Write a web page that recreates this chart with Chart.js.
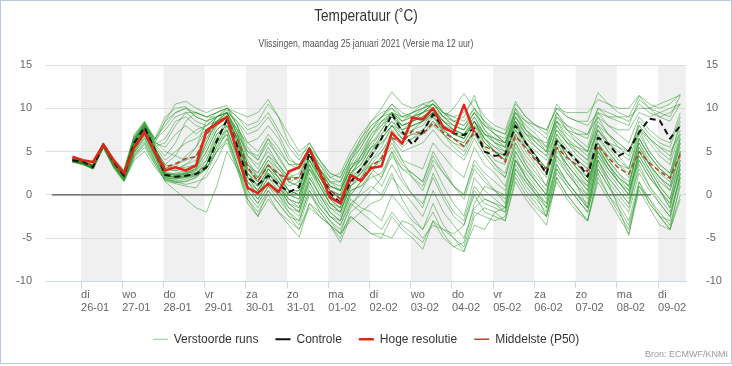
<!DOCTYPE html>
<html>
<head>
<meta charset="utf-8">
<script src="https://cdn.jsdelivr.net/npm/chart.js@4.4.1/dist/chart.umd.min.js"></script>
<style>
  html, body { margin: 0; padding: 0; background: #fff; }
  #wrap { position: relative; width: 732px; height: 366px; }
  #frame { position: absolute; left: 0; top: 0; width: 732px; height: 364px; box-sizing: border-box; border: 1px solid #b7cbe0; pointer-events: none; }
</style>
</head>
<body>
<div id="wrap">
  <canvas id="myChart" width="732" height="366"></canvas>
  <div id="frame"></div>
</div>
<script>
'use strict';

// TEXTS
const titleText = 'Temperatuur (˚C)';
const subtitleText = 'Vlissingen, maandag 25 januari 2021 (Versie ma 12 uur)';
const sourceText = 'Bron: ECMWF/KNMI';

// X AXIS: hours after di 26-01 00:00
const xMin = -20.4;
const xMax = 352.3;
const dayTicks = [0, 24, 48, 72, 96, 120, 144, 168, 192, 216, 240, 264, 288, 312, 336];
const dayNames = ['di', 'wo', 'do', 'vr', 'za', 'zo', 'ma', 'di', 'wo', 'do', 'vr', 'za', 'zo', 'ma', 'di'];
const dayDates = ['26-01', '27-01', '28-01', '29-01', '30-01', '31-01', '01-02', '02-02', '03-02', '04-02', '05-02', '06-02', '07-02', '08-02', '09-02'];

// forecast times (6-hourly)
const hours = [-5, 1, 7, 13, 19, 25, 31, 37, 43, 49, 55, 61, 67, 73, 79, 85, 91, 97, 103, 109,
  115, 121, 127, 133, 139, 145, 151, 157, 163, 169, 175, 181, 187, 193, 199, 205, 211, 217, 223, 229,
  235, 241, 247, 253, 259, 265, 271, 277, 283, 289, 295, 301, 307, 313, 319, 325, 331, 337, 343, 349];

const zeroLineHours = [-17, 332];

// Y AXIS
const yMin = -10;
const yMax = 15;
const yStep = 5;

// SERIES
const controle = [4.0, 3.8, 3.2, 5.9, 3.8, 2.2, 6.0, 7.8, 5.2, 2.3, 2.1, 2.2, 2.4, 3.2, 6.2, 8.7, 5.6, 2.0, 1.2, 2.2,
  1.2, 0.3, 0.9, 4.8, 2.5, 0.2, -0.9, 1.5, 3.0, 4.5, 6.5, 9.4, 7.3, 5.8, 7.3, 9.3, 7.8, 7.1, 6.9, 7.7,
  5.0, 4.5, 4.7, 8.0, 6.0, 4.4, 2.4, 6.2, 5.1, 3.9, 2.1, 6.6, 5.9, 4.5, 5.1, 7.2, 8.8, 8.6, 6.5, 8.0];

const hogeResolutie = [4.4, 4.0, 3.8, 5.8, 4.0, 2.5, 5.5, 7.2, 5.0, 2.8, 3.2, 2.8, 3.4, 7.4, 8.2, 9.0, 4.8, 0.8, 0.2, 1.3,
  0.3, 2.7, 3.2, 5.3, 2.6, -0.3, -1.0, 2.3, 1.6, 3.1, 3.3, 7.2, 5.9, 8.9, 8.7, 10.0, 7.8, 7.2, 10.4, 7.2];

const middelste = [4.0, 3.8, 3.3, 5.7, 3.6, 2.2, 5.6, 7.4, 5.0, 3.2, 3.6, 4.2, 4.4, 7.0, 8.2, 8.8, 6.5, 3.2, 1.6, 3.4,
  2.4, 1.8, 2.0, 4.6, 2.8, 0.6, -0.5, 1.6, 1.8, 3.3, 4.2, 6.6, 6.0, 7.4, 7.0, 8.3, 7.2, 6.5, 5.6, 7.2,
  5.6, 5.0, 3.8, 6.8, 5.4, 3.9, 3.0, 5.5, 4.3, 3.4, 2.7, 5.7, 4.3, 3.1, 2.4, 5.0, 3.7, 2.7, 1.9, 4.7];

const verstoordeRuns = [
  [4.1, 3.7, 3.3, 5.8, 3.9, 2.6, 6.2, 8.1, 6.0, 8.5, 10.5, 10.8, 10.0, 9.5, 10.0, 10.3, 8.0, 5.5, 4.0, 6.5, 4.2, 2.5, 3.0, 5.5, 3.0, 1.5, 1.0, 3.5, 4.0, 6.0, 7.5, 9.5, 8.0, 8.5, 9.0, 10.0, 8.0, 7.0, 6.5, 8.5, 6.0, 5.0, 4.5, 8.0, 6.0, 4.5, 3.0, 6.5, 5.0, 4.0, 3.0, 6.0, 4.5, 3.5, 3.0, 6.5, 4.5, 3.0, 2.0, 5.5],
  [3.9, 3.6, 3.1, 5.6, 3.4, 1.9, 5.0, 7.0, 4.5, 2.0, 1.8, 2.2, 2.5, 3.0, 5.5, 8.0, 6.0, 2.0, 0.5, 2.5, 1.0, -1.0, -2.0, 1.5, -0.5, -2.5, -3.0, 0.0, 1.5, 3.0, 2.0, 4.5, 3.0, 2.0, 1.0, 4.0, 2.5, 1.0, 0.0, 3.5, 2.0, 0.5, -1.0, 4.0, 2.0, 0.5, -1.5, 3.5, 1.5, 0.0, -1.5, 4.0, 2.0, 0.5, -1.0, 3.0, 1.0, -0.5, -2.0, 2.0],
  [4.2, 3.9, 3.4, 6.0, 4.1, 2.8, 6.8, 8.4, 6.2, 5.0, 4.5, 4.0, 5.5, 8.5, 9.5, 10.0, 9.0, 7.5, 8.0, 9.5, 7.5, 5.5, 4.0, 6.0, 4.0, 2.0, 1.5, 4.0, 5.5, 7.5, 9.0, 10.5, 9.5, 9.0, 10.0, 11.0, 9.5, 8.5, 9.0, 11.5, 8.0, 7.0, 6.5, 10.0, 8.5, 7.5, 6.5, 9.5, 8.0, 7.0, 6.5, 10.0, 9.0, 8.5, 8.0, 11.0, 10.0, 9.5, 9.0, 11.5],
  [3.8, 3.5, 3.0, 5.5, 3.2, 1.6, 4.2, 5.5, 3.5, 1.6, 1.3, 1.0, 0.8, 2.5, 5.0, 7.5, 4.5, 0.5, -1.0, 1.0, 0.0, -2.0, -3.5, 0.0, -1.5, -3.0, -4.5, -1.0, -2.0, -3.0, -4.0, -2.0, -3.5, -4.5, -5.5, -3.0, -4.0, -5.0, -6.0, -2.0, -2.5, -3.0, -2.5, 3.0, 1.0, -0.5, -2.0, 2.5, 1.0, -0.5, -2.0, 3.0, 1.0, -1.0, -3.0, 1.5, -0.5, -2.0, -3.5, 1.0],
  [4.0, 3.8, 3.2, 5.9, 3.7, 2.1, 5.8, 7.6, 5.0, 2.5, 2.3, 2.5, 3.0, 6.5, 8.5, 9.2, 6.0, 3.0, 1.5, 3.5, 2.5, 1.0, 1.5, 4.5, 2.0, 0.0, -1.0, 2.0, 3.0, 5.0, 7.0, 8.5, 7.0, 8.0, 8.5, 9.5, 8.0, 7.5, 7.0, 8.5, 6.5, 5.5, 4.5, 8.5, 6.0, 4.0, 2.5, 7.0, 5.0, 3.5, 2.0, 6.5, 5.0, 3.5, 2.5, 6.0, 4.0, 2.5, 1.5, 6.0],
  [4.1, 3.8, 3.3, 5.7, 3.9, 2.5, 6.5, 8.0, 6.5, 9.0, 10.0, 10.2, 9.0, 8.5, 9.0, 9.5, 7.5, 4.0, 2.0, 3.5, 2.0, 0.5, 0.0, 3.0, 1.5, -1.0, -2.0, 1.0, 2.5, 4.0, 5.5, 8.0, 6.5, 7.5, 8.0, 9.5, 7.0, 6.0, 5.0, 7.5, 5.5, 4.0, 3.5, 7.0, 5.0, 3.5, 2.0, 6.5, 4.5, 3.0, 1.5, 5.5, 3.5, 2.0, 0.5, 5.0, 3.0, 1.0, -0.5, 4.0],
  [3.9, 3.7, 3.2, 5.8, 3.6, 2.0, 5.5, 7.2, 4.8, 2.2, 2.0, 2.3, 2.6, 3.5, 6.0, 8.5, 5.5, 1.0, -0.5, 1.5, 0.5, -1.5, -2.5, 1.0, -1.0, -2.5, -3.5, -0.5, -1.5, -2.0, -3.0, 0.0, -1.5, -3.0, -4.0, -1.0, -3.5, -5.0, -6.5, -3.5, -4.0, -2.0, -1.5, 4.5, 2.0, 0.0, -2.5, 2.0, 0.0, -1.5, -3.0, 1.5, -0.5, -2.5, -4.5, 0.5, -1.5, -3.5, -4.0, 0.0],
  [4.0, 3.7, 3.2, 5.9, 3.8, 2.3, 6.0, 7.9, 5.5, 3.0, 2.8, 3.5, 4.5, 7.0, 9.0, 9.5, 7.0, 3.5, 2.0, 4.0, 3.0, 1.5, 2.0, 5.0, 2.5, 0.5, 0.0, 2.5, 4.0, 6.5, 8.0, 9.5, 8.5, 9.0, 9.5, 10.5, 9.0, 8.0, 7.5, 9.5, 7.5, 6.5, 6.0, 9.5, 8.0, 7.0, 5.5, 9.0, 8.0, 7.5, 7.0, 10.0, 9.5, 9.0, 8.5, 10.5, 9.5, 9.0, 9.5, 10.5],
  [3.9, 3.6, 3.1, 5.6, 3.5, 1.8, 4.8, 6.5, 4.0, 1.5, 0.5, -0.5, -1.5, -2.0, 1.0, 5.0, 3.0, 1.0, 0.0, 2.0, 1.0, -0.5, -1.5, 2.0, 0.0, -1.5, -2.0, 1.0, 2.0, 3.5, 5.0, 7.0, 6.0, 6.5, 7.0, 8.5, 7.5, 6.5, 6.0, 8.0, 6.0, 5.0, 4.0, 7.0, 5.5, 4.0, 2.5, 6.0, 4.5, 3.0, 1.5, 5.0, 3.0, 1.5, 0.0, 4.5, 2.5, 0.5, -1.0, 3.0],
  [4.2, 3.8, 3.4, 5.9, 4.0, 2.7, 6.5, 8.2, 6.3, 7.5, 9.0, 9.5, 9.5, 9.0, 9.5, 10.0, 9.0, 8.0, 8.5, 10.5, 9.0, 6.0, 4.5, 5.5, 3.5, 1.5, 0.5, 3.0, 4.5, 6.5, 8.5, 9.0, 7.5, 8.0, 8.5, 9.0, 7.5, 6.5, 6.0, 8.0, 6.5, 5.5, 5.0, 7.5, 6.0, 5.0, 4.0, 7.5, 6.0, 5.5, 5.0, 8.0, 7.0, 6.0, 5.0, 7.5, 6.5, 5.5, 5.0, 7.0],
  [4.0, 3.9, 3.3, 5.8, 3.7, 2.2, 5.9, 7.7, 5.1, 2.8, 3.2, 4.5, 5.5, 7.5, 8.5, 9.0, 6.5, 2.5, 1.0, 2.5, 1.5, 0.0, 0.5, 4.0, 1.5, -0.5, -1.5, 1.5, 2.5, 4.5, 6.0, 7.0, 5.5, 6.5, 7.5, 8.5, 7.0, 5.5, 4.5, 7.0, 5.0, 3.5, 2.5, 6.5, 4.5, 3.0, 1.0, 5.5, 3.5, 2.0, 0.5, 5.0, 3.0, 1.5, 0.5, 4.0, 2.0, 0.5, -1.5, 3.5],
  [3.8, 3.6, 3.0, 5.5, 3.3, 1.7, 4.5, 6.0, 3.8, 2.0, 1.5, 1.2, 1.5, 2.0, 4.0, 6.5, 3.0, -0.5, -2.5, 0.5, -1.0, -2.5, -4.0, -1.0, -2.0, -3.5, -5.0, -2.0, -1.0, 0.5, 2.0, 5.0, 2.0, 0.0, -1.0, 2.0, -0.5, -2.5, -3.5, 0.5, -1.0, -1.5, -2.0, 3.0, 1.5, 0.0, -1.0, 4.0, 2.5, 1.0, 0.0, 5.0, 3.5, 2.0, 1.0, 5.5, 3.5, 2.0, 1.0, 5.0],
  [4.1, 3.8, 3.3, 5.9, 4.0, 2.4, 6.4, 8.3, 5.8, 4.5, 6.0, 8.5, 9.5, 9.0, 9.0, 9.5, 8.5, 6.0, 5.0, 7.0, 5.5, 3.5, 3.0, 5.0, 3.5, 2.0, 2.5, 5.0, 7.0, 8.5, 9.5, 10.0, 9.0, 9.5, 10.0, 10.5, 9.5, 9.0, 8.5, 10.0, 8.5, 7.5, 7.0, 10.5, 9.0, 8.0, 7.5, 10.0, 9.5, 9.5, 9.5, 11.0, 10.5, 10.0, 10.0, 11.5, 10.5, 10.0, 10.5, 11.7],
  [3.9, 3.7, 3.2, 5.7, 3.6, 2.0, 5.2, 7.0, 4.6, 2.3, 2.5, 2.8, 3.2, 5.0, 7.5, 8.5, 5.0, 1.5, 0.0, 3.0, 1.5, -0.5, -1.0, 3.0, 0.5, -1.5, -2.5, 0.5, 1.0, 2.5, 1.0, 3.5, 1.5, 0.0, -1.5, 2.5, 0.0, -2.0, -3.0, 1.0, -0.5, -1.0, -2.0, 2.5, 0.5, -1.0, -2.5, 1.5, -0.5, -2.0, -3.0, 2.0, 0.0, -1.5, -3.5, 1.0, -0.5, -2.5, -3.0, 2.5],
  [4.0, 3.7, 3.3, 5.8, 3.8, 2.4, 6.1, 7.8, 5.3, 3.5, 3.0, 3.5, 4.0, 7.0, 9.0, 10.0, 8.0, 4.5, 3.0, 5.5, 3.5, 2.0, 2.5, 5.5, 3.0, 1.0, 0.5, 4.0, 6.5, 8.0, 9.0, 10.0, 8.5, 9.5, 10.5, 10.0, 9.0, 10.0, 11.7, 10.0, 7.5, 6.0, 5.0, 9.0, 7.0, 5.5, 4.5, 8.5, 6.5, 5.0, 4.0, 8.0, 6.0, 4.5, 3.0, 7.0, 5.0, 3.5, 2.5, 6.5],
  [3.8, 3.5, 3.0, 5.4, 3.1, 1.5, 4.0, 5.0, 3.2, 1.8, 1.5, 1.5, 2.0, 3.5, 6.0, 7.0, 3.5, 0.0, -1.5, 0.5, -1.0, -2.5, -3.0, 0.5, -2.0, -3.5, -5.5, -2.5, -3.5, -4.5, -5.0, -2.5, -4.0, -5.0, -6.3, -3.0, -5.0, -6.0, -6.6, -2.5, -1.5, -2.0, -3.0, 2.0, 0.0, -1.5, -2.5, 3.0, 1.5, 0.0, -1.0, 4.5, 3.0, 1.5, 0.0, 5.0, 3.5, 2.0, 0.5, 4.0],
  [4.1, 3.8, 3.4, 5.9, 3.9, 2.5, 6.3, 8.0, 5.6, 6.0, 8.0, 9.5, 8.5, 8.0, 8.5, 9.5, 7.0, 3.5, 2.5, 4.5, 3.0, 1.5, 1.0, 4.5, 2.0, 0.5, -0.5, 2.5, 3.5, 5.5, 6.5, 8.0, 7.5, 8.5, 9.0, 10.0, 8.5, 7.5, 7.0, 9.0, 7.0, 6.0, 5.5, 8.5, 6.5, 5.5, 4.5, 7.5, 6.0, 5.0, 4.0, 7.5, 6.0, 5.0, 4.0, 7.5, 6.0, 4.5, 3.5, 7.5],
  [3.9, 3.6, 3.1, 5.7, 3.5, 1.9, 5.3, 7.3, 4.7, 2.5, 2.2, 2.4, 2.8, 4.5, 7.0, 8.0, 5.5, 2.0, 1.0, 3.0, 2.0, 0.0, -0.5, 3.5, 1.0, -1.0, -1.5, 1.5, 3.0, 4.5, 6.5, 8.0, 6.5, 7.0, 7.5, 9.0, 7.5, 6.5, 5.5, 7.5, 5.0, 3.5, 2.0, 6.0, 3.5, 1.5, 0.0, 5.5, 3.0, 1.0, -1.5, 4.0, 1.5, -1.5, -4.7, 1.5, -1.0, -2.5, -4.0, 1.5],
  [4.0, 3.8, 3.2, 5.8, 3.8, 2.2, 5.7, 7.5, 5.0, 3.0, 3.5, 4.0, 4.5, 6.5, 8.0, 9.0, 6.5, 3.0, 2.0, 4.0, 2.5, 0.5, 0.0, 4.0, 2.0, 0.0, -1.0, 2.0, 4.5, 7.0, 8.5, 9.5, 9.0, 9.5, 10.0, 10.5, 9.0, 8.0, 7.5, 9.0, 7.0, 6.5, 5.5, 10.0, 7.5, 6.0, 5.0, 9.5, 7.5, 6.0, 5.0, 9.0, 7.0, 5.5, 4.5, 8.5, 7.0, 6.0, 5.5, 9.0],
  [3.8, 3.6, 3.0, 5.5, 3.3, 1.7, 4.6, 6.2, 4.0, 1.8, 1.6, 1.8, 2.2, 3.0, 5.5, 7.0, 3.5, -0.5, -2.0, 0.0, -2.0, -3.5, -4.9, -1.0, -2.5, -3.5, -4.5, -3.0, -2.0, -1.0, -0.5, 2.0, 0.5, -1.0, -2.5, 0.5, -2.0, -3.5, -5.0, -1.5, -0.5, -1.0, -1.5, 4.0, 2.5, 1.0, -0.5, 5.0, 3.5, 2.0, 1.0, 6.0, 4.0, 2.5, 1.0, 6.5, 4.5, 3.0, 2.0, 6.5],
  [4.1, 3.9, 3.4, 5.9, 4.0, 2.6, 6.6, 8.3, 6.0, 5.5, 7.0, 8.0, 7.0, 8.0, 9.0, 9.8, 8.0, 5.0, 4.0, 6.0, 4.5, 2.5, 1.5, 4.5, 2.5, 1.0, 0.5, 3.0, 4.5, 6.0, 7.0, 8.5, 7.5, 8.0, 8.5, 9.5, 8.0, 7.0, 6.5, 8.5, 7.0, 6.0, 5.5, 9.0, 7.0, 6.0, 5.0, 8.0, 6.5, 5.5, 4.5, 7.5, 6.0, 5.5, 5.0, 8.0, 6.5, 5.0, 4.0, 8.5],
  [4.0, 3.7, 3.2, 5.8, 3.7, 2.1, 5.6, 7.4, 4.9, 2.4, 2.0, 2.2, 2.5, 3.5, 6.5, 8.8, 6.5, 2.5, 1.0, 3.0, 1.5, 0.0, -0.5, 3.5, 1.0, -1.0, -2.0, 1.5, 2.5, 3.5, 4.0, 6.0, 4.0, 3.5, 3.0, 6.0, 4.5, 3.0, 2.0, 5.5, 3.5, 2.5, 1.0, 5.5, 3.5, 2.0, 0.5, 4.5, 3.0, 1.5, 0.0, 4.5, 2.5, 1.0, -0.5, 4.5, 2.5, 0.5, -1.0, 3.5],
  [4.2, 3.9, 3.5, 6.0, 4.2, 2.9, 7.0, 8.5, 6.5, 8.0, 9.5, 10.0, 9.5, 9.0, 9.5, 10.0, 9.5, 9.0, 9.5, 11.0, 9.0, 7.0, 5.0, 6.0, 4.0, 2.5, 2.0, 4.5, 6.0, 7.5, 8.5, 9.5, 8.5, 9.0, 9.5, 10.5, 9.0, 8.5, 8.0, 9.5, 8.0, 7.5, 7.0, 9.5, 8.5, 8.0, 7.5, 10.0, 9.0, 8.5, 8.0, 9.5, 9.0, 9.0, 9.0, 10.0, 10.0, 10.5, 11.0, 11.5],
  [3.9, 3.7, 3.1, 5.6, 3.5, 1.8, 5.0, 6.8, 4.4, 2.0, 1.8, 2.0, 2.4, 4.0, 6.5, 7.5, 4.0, 1.0, -0.5, 1.5, 0.0, -1.5, -2.0, 1.5, -1.0, -2.5, -3.5, -1.0, 0.0, 1.0, 0.0, 2.5, -0.5, -2.5, -4.0, -2.0, -4.5, -6.0, -5.5, -1.0, 1.0, 0.5, 0.0, 5.0, 3.0, 1.5, 0.0, 5.5, 3.5, 2.0, 0.5, 5.5, 3.5, 1.5, 0.0, 5.0, 3.0, 1.0, -0.5, 4.5],
  [4.0, 3.8, 3.3, 5.8, 3.9, 2.4, 6.0, 7.8, 5.4, 3.2, 3.0, 3.2, 3.5, 5.5, 8.0, 9.0, 6.5, 3.0, 1.5, 3.5, 2.0, 0.5, 0.5, 4.5, 2.5, 0.5, -0.5, 2.5, 3.5, 5.5, 7.5, 9.0, 8.0, 8.5, 9.5, 10.0, 8.5, 7.5, 6.5, 8.5, 6.5, 5.0, 4.0, 8.5, 6.0, 4.5, 3.0, 8.0, 6.0, 4.5, 3.5, 7.5, 5.5, 4.0, 3.0, 7.5, 5.0, 3.5, 2.5, 7.0],
  [4.1, 3.8, 3.3, 5.9, 3.8, 2.3, 6.2, 8.0, 5.4, 3.5, 4.5, 6.5, 7.5, 8.0, 9.0, 9.5, 7.5, 4.5, 3.5, 5.0, 3.5, 1.5, 1.0, 4.0, 2.0, 0.5, 0.0, 3.0, 5.0, 7.0, 8.0, 9.0, 8.0, 8.5, 9.0, 9.5, 8.5, 8.0, 7.5, 9.5, 8.0, 7.0, 6.0, 9.5, 7.5, 6.5, 5.5, 9.0, 7.5, 6.5, 5.5, 9.5, 8.0, 7.0, 6.0, 9.0, 7.5, 6.5, 6.0, 9.5],
  [3.9, 3.6, 3.1, 5.6, 3.4, 1.8, 4.9, 6.6, 4.3, 2.1, 1.9, 2.0, 2.2, 3.0, 5.0, 6.5, 3.5, 0.5, -1.0, 1.0, -0.5, -2.0, -3.0, 0.5, -1.5, -3.0, -4.0, -1.5, 0.5, 2.5, 4.5, 6.5, 4.0, 2.0, 0.5, 3.5, 1.0, -1.0, -2.5, 2.0, 0.5, -0.5, -1.5, 3.5, 1.5, 0.0, -1.5, 3.0, 1.0, -0.5, -2.0, 3.0, 1.0, -0.5, -2.0, 2.5, 0.5, -1.0, -2.5, 2.0],
  [4.0, 3.7, 3.2, 5.8, 3.7, 2.2, 5.8, 7.6, 5.1, 2.6, 2.4, 2.6, 3.0, 6.0, 8.5, 9.5, 7.0, 3.5, 2.5, 4.5, 3.5, 2.0, 2.0, 5.5, 3.0, 1.0, 0.5, 3.0, 4.0, 5.5, 6.0, 7.5, 6.5, 7.0, 7.0, 8.0, 7.0, 6.0, 5.5, 7.5, 6.0, 5.0, 4.0, 7.5, 5.5, 4.0, 2.5, 6.5, 4.5, 3.0, 2.0, 6.0, 4.0, 2.5, 1.5, 5.5, 3.5, 2.0, 1.0, 5.0],
  [4.1, 3.8, 3.3, 5.8, 3.9, 2.5, 6.2, 7.9, 5.6, 4.0, 5.0, 6.0, 6.5, 7.5, 8.5, 9.0, 7.0, 5.0, 4.5, 6.5, 5.0, 3.5, 3.5, 5.5, 4.0, 2.5, 2.0, 4.5, 6.5, 8.5, 10.0, 11.9, 10.5, 10.0, 10.5, 10.9, 9.5, 9.0, 9.5, 11.0, 9.0, 8.0, 7.5, 10.8, 9.0, 8.0, 7.0, 10.5, 9.0, 8.5, 8.5, 11.8, 10.5, 9.5, 9.0, 11.4, 10.0, 9.0, 8.5, 10.5],
  [3.9, 3.6, 3.1, 5.7, 3.6, 2.0, 5.4, 7.1, 4.7, 2.2, 2.1, 2.4, 2.8, 4.0, 7.0, 8.0, 5.0, 1.5, 0.5, 2.5, 1.0, -1.0, -1.5, 2.5, 0.0, -2.0, -3.0, 0.0, 1.5, 3.0, 4.0, 5.5, 3.5, 2.5, 1.5, 4.5, 2.5, 1.0, 0.0, 4.0, 2.5, 1.5, 0.5, 5.0, 3.0, 1.5, 0.0, 4.5, 2.5, 1.0, -0.5, 4.0, 2.0, 0.5, -1.0, 4.0, 2.0, 0.5, -1.5, 3.0],
  [3.8, 3.5, 3.0, 5.5, 3.2, 1.6, 4.4, 5.8, 3.6, 1.7, 1.4, 1.6, 2.0, 3.0, 5.0, 6.0, 3.0, -1.0, -2.5, -0.5, -2.0, -3.0, -4.0, -1.5, -2.5, -3.5, -4.5, -2.5, -3.5, -4.5, -4.5, -5.0, -3.0, -3.5, -5.0, -3.5, -4.0, -4.5, -3.5, 0.0, -2.0, -2.5, -3.0, 1.5, -0.5, -2.0, -3.5, 2.0, 0.0, -1.5, -3.0, 2.5, 0.0, -2.0, -4.0, 1.0, -1.0, -2.5, -4.0, -0.5],
  [4.1, 3.9, 3.4, 5.9, 4.0, 2.5, 6.4, 8.1, 5.8, 6.5, 8.5, 9.0, 8.0, 7.5, 8.5, 9.0, 7.5, 6.0, 6.5, 8.0, 6.5, 4.0, 3.5, 5.0, 3.0, 1.5, 1.5, 4.0, 6.0, 8.0, 9.0, 9.5, 8.0, 8.5, 9.5, 10.0, 8.5, 7.5, 7.0, 8.5, 7.0, 6.5, 6.0, 8.5, 7.0, 6.5, 6.0, 8.5, 7.5, 7.0, 7.0, 9.0, 8.0, 7.5, 7.5, 9.5, 9.0, 9.5, 10.0, 10.5],
  [4.0, 3.7, 3.2, 5.7, 3.7, 2.1, 5.6, 7.3, 4.9, 2.4, 2.3, 2.5, 3.0, 5.0, 7.5, 8.5, 5.5, 2.0, 0.5, 2.5, 1.0, -0.5, -1.0, 3.0, 1.0, -1.0, -2.0, 1.0, 2.0, 4.0, 5.0, 6.5, 5.0, 5.5, 6.0, 7.5, 6.0, 5.0, 4.0, 6.5, 4.5, 3.0, 2.0, 6.0, 4.0, 2.5, 1.0, 6.0, 4.0, 2.5, 1.0, 5.5, 3.5, 2.0, 1.0, 6.0, 3.5, 1.5, 0.5, 5.0],
  [4.2, 3.9, 3.4, 6.0, 4.1, 2.7, 6.7, 8.4, 6.4, 8.5, 9.5, 10.0, 9.0, 8.5, 9.0, 9.5, 8.5, 7.0, 7.5, 9.0, 7.0, 4.5, 3.0, 5.0, 3.0, 1.0, 0.5, 3.5, 5.5, 7.5, 9.0, 10.5, 9.0, 9.0, 9.5, 10.5, 9.5, 8.5, 8.0, 10.0, 8.5, 7.0, 6.0, 9.0, 7.5, 6.5, 5.0, 8.5, 7.0, 6.0, 5.0, 8.5, 7.0, 6.0, 5.0, 8.0, 6.5, 5.5, 4.5, 8.0],
  [3.9, 3.7, 3.2, 5.7, 3.6, 2.0, 5.3, 7.0, 4.6, 2.3, 2.0, 2.1, 2.4, 3.5, 6.0, 7.5, 4.5, 1.5, 0.0, 2.0, 0.5, -1.0, -2.0, 2.0, 0.0, -2.0, -3.0, 0.5, 1.0, 2.0, 2.5, 5.0, 3.0, 2.5, 1.5, 5.0, 3.0, 1.0, -0.5, 3.0, 1.5, 0.5, -0.5, 4.0, 2.0, 0.5, -1.0, 3.5, 1.5, 0.0, -1.5, 3.5, 1.5, 0.0, -1.5, 3.5, 1.0, -1.0, -2.5, 2.5],
  [4.0, 3.8, 3.3, 5.9, 3.8, 2.3, 6.0, 7.9, 5.3, 3.0, 2.8, 3.0, 3.5, 6.0, 8.5, 9.5, 6.0, 2.5, 1.5, 3.5, 2.0, 0.5, 0.0, 3.5, 1.5, -0.5, -1.5, 2.0, 3.0, 5.0, 6.5, 8.0, 7.0, 7.5, 8.5, 9.5, 8.0, 7.0, 6.5, 8.5, 6.5, 5.0, 4.5, 8.0, 6.0, 4.5, 3.0, 7.0, 5.5, 4.0, 3.0, 7.0, 5.0, 3.5, 2.0, 6.5, 4.5, 3.0, 2.0, 6.0]
];

// COLOURS
const runColor = 'rgba(35, 150, 35, 0.5)';
const controlColor = '#111111';
const hresColor = '#e3241b';
const p50Color = '#ad4a2f';
const labelFont = "'Liberation Sans', Arial, sans-serif";

// HELPERS
function toPoints(values) {
  return values.map((v, i) => ({ x: hours[i], y: v }));
}

// the header text in the reference is a condensed face, so squeeze it
function drawSqueezed(ctx, text, x, y, font, color, squeeze) {
  ctx.save();
  ctx.font = font;
  ctx.fillStyle = color;
  ctx.textAlign = 'center';
  ctx.textBaseline = 'middle';
  ctx.translate(x, y);
  ctx.scale(squeeze, 1);
  ctx.fillText(text, 0, 0);
  ctx.restore();
}

// DATASETS
let datasets = [];
verstoordeRuns.forEach((run, n) => {
  datasets.push({
    label: n === 0 ? 'Verstoorde runs' : '',
    data: toPoints(run),
    borderColor: runColor,
    borderWidth: 1,
    order: 5
  });
});
datasets.push({ label: 'Controle', data: toPoints(controle), borderColor: controlColor, borderWidth: 2, borderDash: [6, 4], order: 2 });
datasets.push({ label: 'Hoge resolutie', data: toPoints(hogeResolutie), borderColor: hresColor, borderWidth: 2.5, order: 1 });
datasets.push({ label: 'Middelste (P50)', data: toPoints(middelste), borderColor: p50Color, borderWidth: 1.6, borderDash: [5, 3], order: 3 });
datasets.push({ label: '', data: zeroLineHours.map(h => ({ x: h, y: 0 })), borderColor: '#555555', borderWidth: 1.2, order: 6 });

// PLUGINS
const dayBands = {
  id: 'dayBands',
  beforeDraw(chart) {
    const { ctx, chartArea, scales } = chart;
    const x = scales.x;
    ctx.save();
    ctx.fillStyle = '#f0f0f0';
    for (let i = 0; i < dayTicks.length; i += 2) {
      let left = x.getPixelForValue(dayTicks[i]);
      let right = Math.min(x.getPixelForValue(dayTicks[i] + 24), chartArea.right);
      ctx.fillRect(left, chartArea.top, right - left, chartArea.bottom - chartArea.top);
    }
    ctx.restore();
  }
};

const headerAndSource = {
  id: 'headerAndSource',
  afterDraw(chart) {
    const ctx = chart.ctx;
    const cx = chart.width / 2;
    drawSqueezed(ctx, titleText, cx, 16.5, '17px ' + labelFont, '#333333', 0.8);
    drawSqueezed(ctx, subtitleText, cx, 44, '10.5px ' + labelFont, '#555555', 0.82);

    ctx.save();
    ctx.font = '9px ' + labelFont;
    ctx.fillStyle = '#999999';
    ctx.textAlign = 'right';
    ctx.textBaseline = 'middle';
    ctx.fillText(sourceText, chart.width - 4, 355);
    ctx.restore();
  }
};

// CHART
const ctx = document.getElementById('myChart').getContext('2d');
const myChart = new Chart(ctx, {
  type: 'line',
  data: { datasets: datasets },
  options: {
    responsive: false,
    animation: false,
    events: [],
    layout: { padding: { top: 65, bottom: 10.8, left: 0, right: 0 } },
    elements: {
      point: { radius: 0 },
      line: { tension: 0, borderJoinStyle: 'round' }
    },
    scales: {
      x: {
        type: 'linear',
        min: xMin,
        max: xMax,
        afterBuildTicks: (axis) => { axis.ticks = dayTicks.map(v => ({ value: v })); },
        afterFit: (axis) => { axis.height = 34.8; },
        grid: { drawOnChartArea: false, drawTicks: true, tickLength: 7, color: '#ccd6eb' },
        border: { display: true, color: '#ccd6eb' },
        ticks: {
          align: 'start',
          padding: 1,
          maxRotation: 0,
          autoSkip: false,
          color: '#666666',
          font: { family: labelFont, size: 11, lineHeight: 1.1 },
          callback: (value, index) => [dayNames[index], dayDates[index]]
        }
      },
      y: {
        position: 'left',
        min: yMin,
        max: yMax,
        afterFit: (axis) => { axis.width = 46; },
        grid: { color: '#dddddd', drawTicks: false },
        border: { display: false },
        ticks: { stepSize: yStep, padding: 14, color: '#666666', font: { family: labelFont, size: 11 } }
      },
      y2: {
        position: 'right',
        min: yMin,
        max: yMax,
        afterFit: (axis) => { axis.width = 46; },
        grid: { display: false },
        border: { display: false },
        ticks: { stepSize: yStep, padding: 12, color: '#666666', font: { family: labelFont, size: 11 } }
      }
    },
    plugins: {
      title: { display: false },
      subtitle: { display: false },
      legend: {
        position: 'bottom',
        labels: {
          usePointStyle: true,
          pointStyle: 'line',
          pointStyleWidth: 15,
          padding: 17,
          color: '#333333',
          font: { family: labelFont, size: 12 },
          filter: (item) => item.text !== '',
          sort: (a, b) => a.datasetIndex - b.datasetIndex
        }
      },
      tooltip: { enabled: false }
    }
  },
  plugins: [dayBands, headerAndSource]
});
</script>
</body>
</html>
